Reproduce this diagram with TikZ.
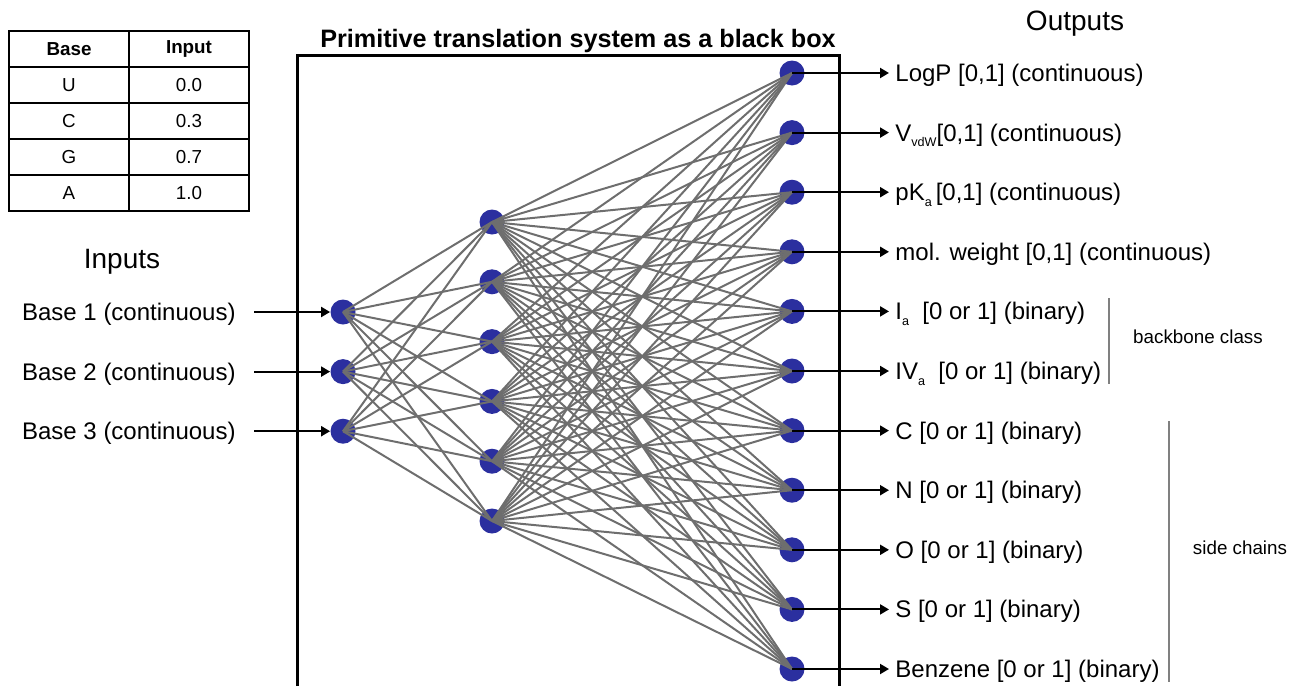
\documentclass[tikz,border=0pt]{standalone}
\usepackage{fontspec}
\setmainfont{Liberation Sans}
\usetikzlibrary{arrows.meta}
\definecolor{cellblue}{HTML}{2B2F9F}
\definecolor{wire}{HTML}{6E6E6E}
\definecolor{brace}{HTML}{808080}
\newcommand{\lowsub}[1]{\raisebox{-2.8pt}{\fontsize{6.3}{7}\selectfont #1}}

\begin{document}
\begin{tikzpicture}[x=0.5pt, y=-0.5pt,
    neuron/.style={circle, fill=cellblue, minimum size=12.5pt, inner sep=0pt},
    wiring/.style={draw=wire, line width=1pt},
    arr/.style={-{Triangle[length=4.5pt,width=5pt]}, line width=1pt},
    lab/.style={font=\fontsize{12}{14}\selectfont, inner sep=0pt, text height=9.5pt, text depth=1pt},
    cell/.style={font=\fontsize{9.4}{11}\selectfont, inner sep=0pt}]
  \useasboundingbox (0,0) rectangle (1289,686);

  % lookup table for the bases
  \draw[line width=0.8pt] (9,31) rectangle (249,211);
  \draw[line width=0.8pt] (129,31) -- (129,211);
  \foreach \y in {67,103,139,175} \draw[line width=0.8pt] (9,\y) -- (249,\y);
  \node[cell, font=\bfseries\fontsize{9.4}{11}\selectfont] (thbase) at (69,49) {Base};
  \node[cell, font=\bfseries\fontsize{9.4}{11}\selectfont] (thinput) at (189,49) {Input};
  \foreach \b/\v [count=\i] in {U/0.0, C/0.3, G/0.7, A/1.0} {
    \node[cell] (tb\i) at (69,49+36*\i) {\b};
    \node[cell] (tv\i) at (189,49+36*\i) {\v};
  }

  \node[font=\fontsize{14}{16}\selectfont] (inputs) at (122,262) {Inputs};
  \node[font=\fontsize{14}{16}\selectfont] (outputs) at (1075,24) {Outputs};
  \node[font=\bfseries\fontsize{12.6}{14}\selectfont] (title) at (578,41) {Primitive translation system as a black box};

  % neurons
  \foreach \i in {1,...,3} \node[neuron] (in\i) at (343,312+59.6*\i-59.6) {};
  \foreach \j in {1,...,6} \node[neuron] (hid\j) at (492,222+59.8*\j-59.8) {};
  \foreach \k in {1,...,11} \node[neuron] (out\k) at (792,73+59.6*\k-59.6) {};

  % connections
  \foreach \i in {1,...,3}
    \foreach \j in {1,...,6} \draw[wiring] (in\i.center) -- (hid\j.center);
  \foreach \j in {1,...,6}
    \foreach \k in {1,...,11} \draw[wiring] (hid\j.center) -- (out\k.center);

  % inputs
  \foreach \t [count=\i] in {Base 1 (continuous), Base 2 (continuous), Base 3 (continuous)} {
    \node[lab, anchor=east] (inlab\i) at (236,312+59.6*\i-59.6) {\t};
    \draw[arr] ([xshift=9pt]inlab\i.east) -- (in\i.west);
  }

  % outputs
  \foreach \t [count=\k] in {{LogP [0,1] (continuous)},
      {V\lowsub{vdW}[0,1] (continuous)},
      {pK\lowsub{a}\,[0,1] (continuous)},
      {mol. weight [0,1] (continuous)},
      {I\lowsub{a}\ \ [0 or 1] (binary)},
      {IV\lowsub{a}\ \ [0 or 1] (binary)},
      {C [0 or 1] (binary)}, {N [0 or 1] (binary)}, {O [0 or 1] (binary)},
      {S [0 or 1] (binary)}, {Benzene [0 or 1] (binary)}} {
    \node[lab, anchor=west] (outlab\k) at (895,73+59.6*\k-59.6) {\t};
    \draw[arr] (out\k.center) -- ([xshift=-3pt]outlab\k.west);
  }

  % the black box
  \draw[line width=1.5pt] (297,686) -- (297,55) -- (839,55) -- (839,686);

  % groups
  \draw[draw=brace, line width=1pt] (1109,298) -- (1109,384);
  \node[cell] (backbone) at (1198,337) {backbone class};
  \draw[draw=brace, line width=1pt] (1169,421) -- (1169,682);
  \node[cell] (sidechains) at (1240,548) {side chains};
\end{tikzpicture}
\end{document}
